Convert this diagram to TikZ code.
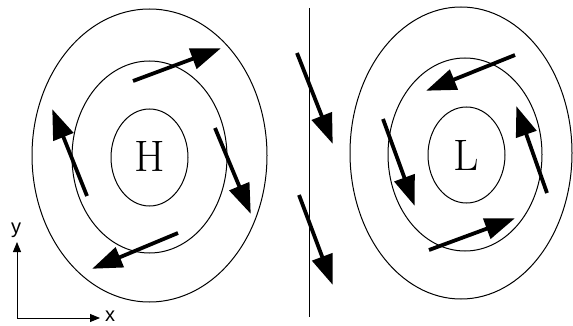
\documentclass[tikz,border=0pt]{standalone}
\usepackage{fontspec}
\newfontfamily\axfont{Liberation Sans}
\usetikzlibrary{arrows.meta}
\tikzset{
  iso/.style={line width=1pt},
  wind/.style={line width=3.8pt, -{Triangle[length=30pt,width=21pt]}, shorten >=-2pt},
  axis/.style={line width=1pt, -{Triangle[length=10pt,width=8pt]}},
  axlbl/.style={font=\axfont\fontsize{20}{20}\selectfont, inner sep=0pt},
  centre/.style={font=\fontsize{44}{44}\selectfont, inner sep=0pt}
}
\begin{document}
\begin{tikzpicture}[x=1pt,y=-1pt]
\useasboundingbox (0,0) rectangle (573,326);
% High pressure system
\draw[iso] (149.5,155.5) ellipse [x radius=117.5, y radius=146.5];
\draw[iso] (149.5,157) ellipse [x radius=77.5, y radius=96];
\draw[iso] (149.5,157.5) ellipse [x radius=38.5, y radius=48.5];
\node[centre] (H) at (149.5,156) {H};
% Low pressure system
\draw[iso] (461,153) ellipse [x radius=111, y radius=146];
\draw[iso] (465,154.5) ellipse [x radius=77, y radius=96.5];
\draw[iso] (466.5,155) ellipse [x radius=38.5, y radius=48];
\node[centre] (L) at (466.5,155) {L};
% front line
\coordinate (f1) at (309,8);
\coordinate (f2) at (309,317);
\draw[line width=1pt] (f1) -- (f2);
% wind arrows around H
\coordinate (h1a) at (133,81);  \coordinate (h1b) at (219,49);
\coordinate (h2a) at (215,128); \coordinate (h2b) at (250,212);
\coordinate (h3a) at (178,233); \coordinate (h3b) at (94,268);
\coordinate (h4a) at (87,196);  \coordinate (h4b) at (53,111);
\draw[wind] (h1a) -- (h1b);
\draw[wind] (h2a) -- (h2b);
\draw[wind] (h3a) -- (h3b);
\draw[wind] (h4a) -- (h4b);
% wind arrows around L
\coordinate (l1a) at (515,55);  \coordinate (l1b) at (428,90);
\coordinate (l2a) at (383,119); \coordinate (l2b) at (414,204);
\coordinate (l3a) at (429,250); \coordinate (l3b) at (513,219);
\coordinate (l4a) at (547,193); \coordinate (l4b) at (517,108);
\draw[wind] (l1a) -- (l1b);
\draw[wind] (l2a) -- (l2b);
\draw[wind] (l3a) -- (l3b);
\draw[wind] (l4a) -- (l4b);
% wind arrows at the front
\coordinate (c1a) at (297,53);  \coordinate (c1b) at (332,142);
\coordinate (c2a) at (299,195); \coordinate (c2b) at (332,283);
\draw[wind] (c1a) -- (c1b);
\draw[wind] (c2a) -- (c2b);
% axes
\coordinate (O) at (17,318);
\coordinate (X) at (100,318);
\coordinate (Y) at (17,242);
\draw[axis] (O) -- (X);
\draw[axis] (O) -- (Y);
\node[axlbl, anchor=west] (xl) at (105,316.5) {x};
\node[axlbl] (yl) at (16,230) {y};
\end{tikzpicture}
\end{document}
